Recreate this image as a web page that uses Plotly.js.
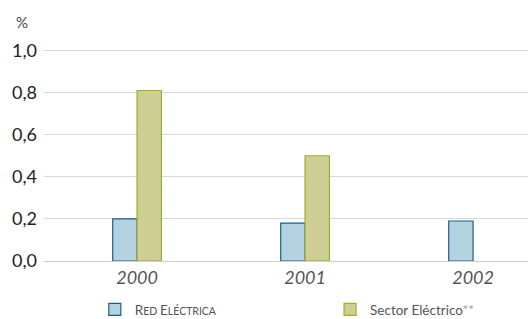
<!DOCTYPE html>
<html><head><meta charset="utf-8">
<script src="https://cdn.plot.ly/plotly-3.0.1.min.js"></script>
<style>body{margin:0;background:#fff}#c{width:528px;height:319px}</style>
</head><body><div id="c"></div>
<script>
var years = ["2000", "2001", "2002"];
var redElectrica = [0.20, 0.18, 0.19];
var sectorElectrico = [0.81, 0.50, null];
var yTicks = [0, 0.2, 0.4, 0.6, 0.8, 1.0];
var nameRed = "R<span style='font-size:10.5px'>ED </span>E<span style='font-size:10.5px'>LÉCTRICA</span>";
var nameSector = "Sector Eléctrico<span style='color:#a0a0a0'>**</span>";

var fontFam = "Lato, 'Open Sans', sans-serif";
var data = [
  {type: "bar", x: years, y: redElectrica, name: nameRed, legend: "legend",
   marker: {color: "#b3d3e3", line: {color: "#1f5f85", width: 1.2}}},
  {type: "bar", x: years, y: sectorElectrico, name: nameSector, legend: "legend2",
   marker: {color: "#cdcf94", line: {color: "#a5ab2a", width: 1.2}}}
];
var legFont = {size: 13.5, color: "#555", family: fontFam};
var layout = {
  width: 528, height: 319,
  margin: {l: 44, r: 0, t: 40, b: 58, autoexpand: false},
  paper_bgcolor: "#fff", plot_bgcolor: "#fff",
  separators: ", ",
  barmode: "group", bargap: 0.71, bargroupgap: 0,
  font: {family: fontFam, color: "#222"},
  showlegend: true,
  legend: {orientation: "h", x: 0.105, y: -0.15, xanchor: "left", yanchor: "top",
    font: legFont, itemwidth: 30, bgcolor: "rgba(0,0,0,0)"},
  legend2: {orientation: "h", x: 0.591, y: -0.15, xanchor: "left", yanchor: "top",
    font: legFont, itemwidth: 30, bgcolor: "rgba(0,0,0,0)"},
  xaxis: {type: "category", range: [-0.554, 2.327], showgrid: false, zeroline: false,
    showline: false, ticks: "", ticklabelstandoff: 4,
    tickfont: {size: 18, color: "#555", family: fontFam, style: "italic"}},
  yaxis: {range: [0, 1.05], tickvals: yTicks, tickformat: ".1f",
    showgrid: true, gridcolor: "#d9d9d9", gridwidth: 1,
    zeroline: true, zerolinecolor: "#cccccc", zerolinewidth: 1,
    showline: false, ticks: "", ticklabelstandoff: 6,
    tickfont: {size: 18, color: "#222", family: fontFam}},
  annotations: [{text: "%", xref: "paper", yref: "paper", x: -0.045, y: 1.08,
    showarrow: false, font: {size: 15, color: "#444", family: fontFam}, xanchor: "center", yanchor: "middle"}]
};
Plotly.newPlot("c", data, layout, {displayModeBar: false, staticPlot: true});
</script></body></html>
